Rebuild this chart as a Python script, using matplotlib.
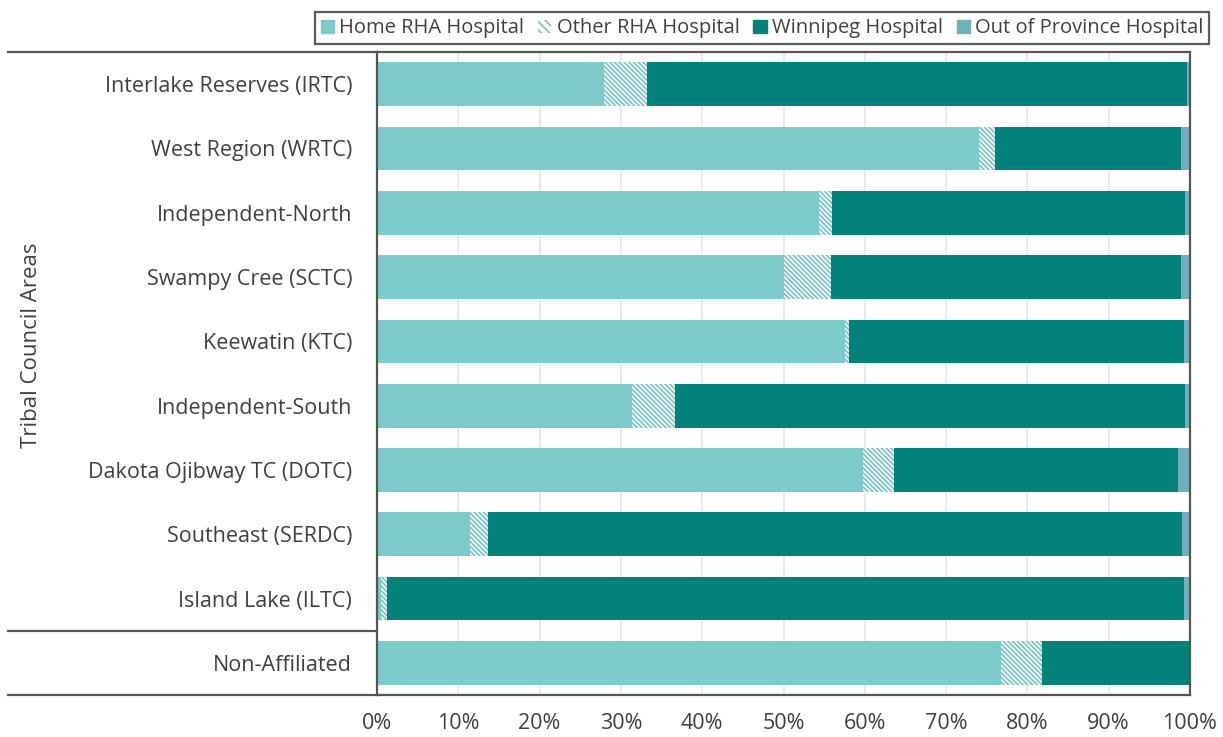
import matplotlib.pyplot as plt
import numpy as np
from matplotlib.lines import Line2D

plt.rcParams['font.family'] = ['Open Sans', 'DejaVu Sans']
plt.rcParams['hatch.linewidth'] = 1.4

# data (percent of hospitalizations)
areas = ['Interlake Reserves (IRTC)', 'West Region (WRTC)', 'Independent-North',
         'Swampy Cree (SCTC)', 'Keewatin (KTC)', 'Independent-South',
         'Dakota Ojibway TC (DOTC)', 'Southeast (SERDC)', 'Island Lake (ILTC)',
         'Non-Affiliated']
home_rha = [27.9, 74.1, 54.4, 50.1, 57.6, 31.4, 59.8, 11.4, 0.5, 76.8]
other_rha = [5.3, 1.9, 1.6, 5.7, 0.4, 5.2, 3.8, 2.3, 0.7, 5.0]
winnipeg = [66.4, 22.9, 43.4, 43.1, 41.3, 62.8, 34.9, 85.3, 98.1, 18.2]
out_of_prov = [0.4, 1.1, 0.6, 1.1, 0.7, 0.6, 1.5, 1.0, 0.7, 0.0]
series_names = ['Home RHA Hospital', 'Other RHA Hospital', 'Winnipeg Hospital',
                'Out of Province Hospital']
x_ticks = [0, 10, 20, 30, 40, 50, 60, 70, 80, 90, 100]

c_home = '#7ccbca'
c_other = '#86c6c9'
c_wpg = '#02827a'
c_oop = '#70b1b9'
txt = '#404040'
frame = '#555555'

fig = plt.figure(figsize=(12.23, 7.37), dpi=100)
ax = fig.add_axes([0.3083, 0.0570, 0.6647, 0.8724])

y = np.arange(len(areas))
h = 0.68
left = np.zeros(len(areas))
ax.barh(y, home_rha, height=h, left=left, color=c_home, zorder=2)
left += home_rha
ax.barh(y, other_rha, height=h, left=left, color='white', edgecolor=c_other,
        hatch='\\\\\\\\\\\\\\', linewidth=0, zorder=2)
left += other_rha
ax.barh(y, winnipeg, height=h, left=left, color=c_wpg, zorder=2)
left += winnipeg
ax.barh(y, out_of_prov, height=h, left=left, color=c_oop, zorder=2)

ax.set_xlim(0, 100)
ax.set_ylim(len(areas) - 0.5, -0.5)
ax.set_xticks(x_ticks)
ax.set_xticklabels([f'{v}%' for v in x_ticks])
ax.set_yticks(y)
ax.set_yticklabels(areas)
ax.tick_params(axis='both', length=0, labelsize=15.5, labelcolor=txt)
ax.tick_params(axis='y', pad=18)
ax.tick_params(axis='x', pad=13)
ax.grid(axis='x', color='#e6e6e6', linewidth=1.2, zorder=0)
ax.set_axisbelow(True)
for s in ax.spines.values():
    s.set_color(frame)
    s.set_linewidth(1.6)

# frame lines for the category panel on the left
tr = ax.get_yaxis_transform()
for yy in [-0.5, 8.5, 9.5]:
    ax.add_line(Line2D([-0.454, 0], [yy, yy], transform=tr, color=frame,
                       linewidth=1.6, clip_on=False))

fig.text(0.026, 1 - 345 / 737, 'Tribal Council Areas', rotation=90,
         ha='center', va='center', fontsize=16, color=txt)

handles = [plt.Rectangle((0, 0), 1, 1, color=c_home),
           plt.Rectangle((0, 0), 1, 1, facecolor='white', edgecolor=c_other,
                         hatch='\\\\\\\\', linewidth=0),
           plt.Rectangle((0, 0), 1, 1, color=c_wpg),
           plt.Rectangle((0, 0), 1, 1, color=c_oop)]
leg = fig.legend(handles, series_names, ncol=4, loc='upper right',
                 bbox_to_anchor=(0.997, 0.997), frameon=True, fancybox=False,
                 fontsize=14.5, handlelength=0.65, handleheight=0.65,
                 handletextpad=0.25, columnspacing=0.7, borderpad=0.3,
                 labelcolor=txt)
leg.get_frame().set_edgecolor('#333333')
leg.get_frame().set_linewidth(1.6)

fig.savefig('out.png', dpi=100)
